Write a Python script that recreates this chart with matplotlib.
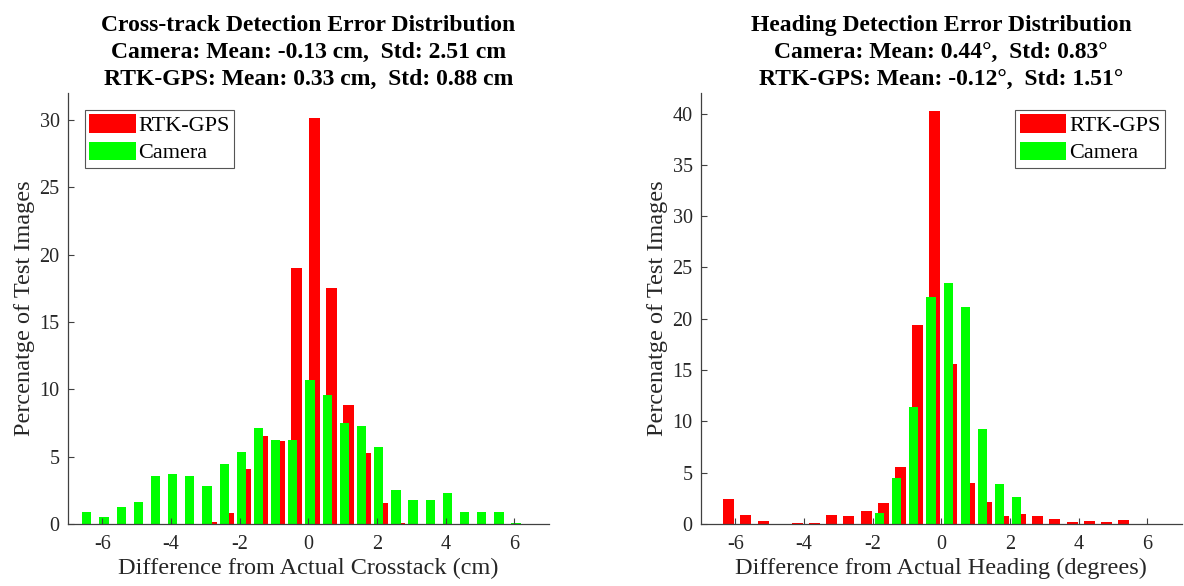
import matplotlib
matplotlib.use('Agg')
import matplotlib.pyplot as plt

# cross-track error histogram (percent of test images per 0.5 cm bin)
cross_bins = [-6.45, -5.95, -5.45, -4.95, -4.45, -3.95, -3.45, -2.95, -2.45, -1.95,
              -1.45, -0.95, -0.45, 0.05, 0.55, 1.05, 1.55, 2.05, 2.55, 3.05,
              3.55, 4.05, 4.55, 5.05, 5.55, 6.05]
cross_camera = [0.87, 0.52, 1.26, 1.61, 3.56, 3.74, 3.56, 2.82, 4.43, 5.35,
                7.10, 6.24, 6.24, 10.67, 9.60, 7.50, 7.30, 5.69, 2.50, 1.78,
                1.78, 2.30, 0.87, 0.87, 0.87, 0.05]
cross_rtk = [0, 0, 0, 0, 0, 0, 0, 0.12, 0.79, 4.08,
             6.51, 6.14, 19.03, 30.12, 17.55, 8.84, 5.30, 1.58, 0.04, 0,
             0, 0, 0, 0, 0, 0]

# heading error histogram (percent of test images per 0.5 degree bin)
head_bins = [-6.3, -5.8, -5.3, -4.8, -4.3, -3.8, -3.3, -2.8, -2.3, -1.8,
             -1.3, -0.8, -0.3, 0.2, 0.7, 1.2, 1.7, 2.2, 2.7, 3.2,
             3.7, 4.2, 4.7, 5.2, 5.7]
head_camera = [0, 0, 0, 0, 0, 0, 0, 0, 0, 1.07,
               4.45, 11.4, 22.08, 23.5, 21.17, 9.22, 3.93, 2.66, 0.04, 0,
               0, 0, 0, 0, 0]
head_rtk = [2.44, 0.91, 0.26, 0.03, 0.10, 0.13, 0.88, 0.75, 1.27, 2.05,
            5.58, 19.4, 40.2, 15.6, 3.99, 2.18, 0.81, 0.97, 0.81, 0.52,
            0.22, 0.26, 0.16, 0.42, 0.03]

x_ticks = [-6, -4, -2, 0, 2, 4, 6]

plt.rcParams['font.family'] = ['Liberation Serif', 'DejaVu Serif']
plt.rcParams['axes.unicode_minus'] = False
axis_color = '#404040'

fig = plt.figure(figsize=(11.84, 5.86), dpi=100)
ax1 = fig.add_axes([0.0574, 0.1058, 0.406, 0.7355])
ax2 = fig.add_axes([0.592, 0.1058, 0.406, 0.7355])


def draw_hist(ax, bins, rtk, camera, offset, ymax, yticks, title, xlabel, legend_loc):
    red_x = [b + offset for b in bins]
    ax.bar(red_x, rtk, width=0.32, color='#ff0000', linewidth=0, label='RTK-GPS')
    ax.bar(bins, camera, width=0.27, color='#00ff00', linewidth=0, label='Camera')
    ax.set_xlim(-7, 7)
    ax.set_ylim(0, ymax)
    ax.set_xticks(x_ticks)
    ax.set_yticks(yticks)
    for side in ['top', 'right']:
        ax.spines[side].set_visible(False)
    for side in ['left', 'bottom']:
        ax.spines[side].set_color(axis_color)
        ax.spines[side].set_linewidth(0.9)
    ax.tick_params(direction='in', length=4, width=0.8, color=axis_color,
                   labelcolor='#262626', labelsize=14.5)
    ax.tick_params(axis='x', pad=8)
    ax.tick_params(axis='y', pad=6)
    ax.set_xlabel(xlabel, fontsize=17.5, color='#262626', labelpad=3)
    ax.set_ylabel('Percenatge of Test Images', fontsize=17.5, color='#262626', labelpad=3)
    ax.set_title(title, fontsize=17, fontweight='bold', linespacing=1.37, pad=6)
    leg = ax.legend(loc=legend_loc, fontsize=16, fancybox=False, framealpha=1,
                    edgecolor='#555555', handlelength=2.1, handleheight=0.9,
                    handletextpad=0.12, labelspacing=0.25, borderpad=0.2,
                    borderaxespad=0.75)
    leg.get_frame().set_linewidth(0.8)


draw_hist(ax1, cross_bins, cross_rtk, cross_camera, 0.12, 32, [0, 5, 10, 15, 20, 25, 30],
          'Cross-track Detection Error Distribution\n'
          'Camera: Mean: -0.13 cm,  Std: 2.51 cm\n'
          'RTK-GPS: Mean: 0.33 cm,  Std: 0.88 cm',
          'Difference from Actual Crosstack (cm)', 'upper left')

draw_hist(ax2, head_bins, head_rtk, head_camera, 0.11, 42, [0, 5, 10, 15, 20, 25, 30, 35, 40],
          'Heading Detection Error Distribution\n'
          'Camera: Mean: 0.44°,  Std: 0.83°\n'
          'RTK-GPS: Mean: -0.12°,  Std: 1.51°',
          'Difference from Actual Heading (degrees)', 'upper right')

fig.savefig('out.png', dpi=100)
